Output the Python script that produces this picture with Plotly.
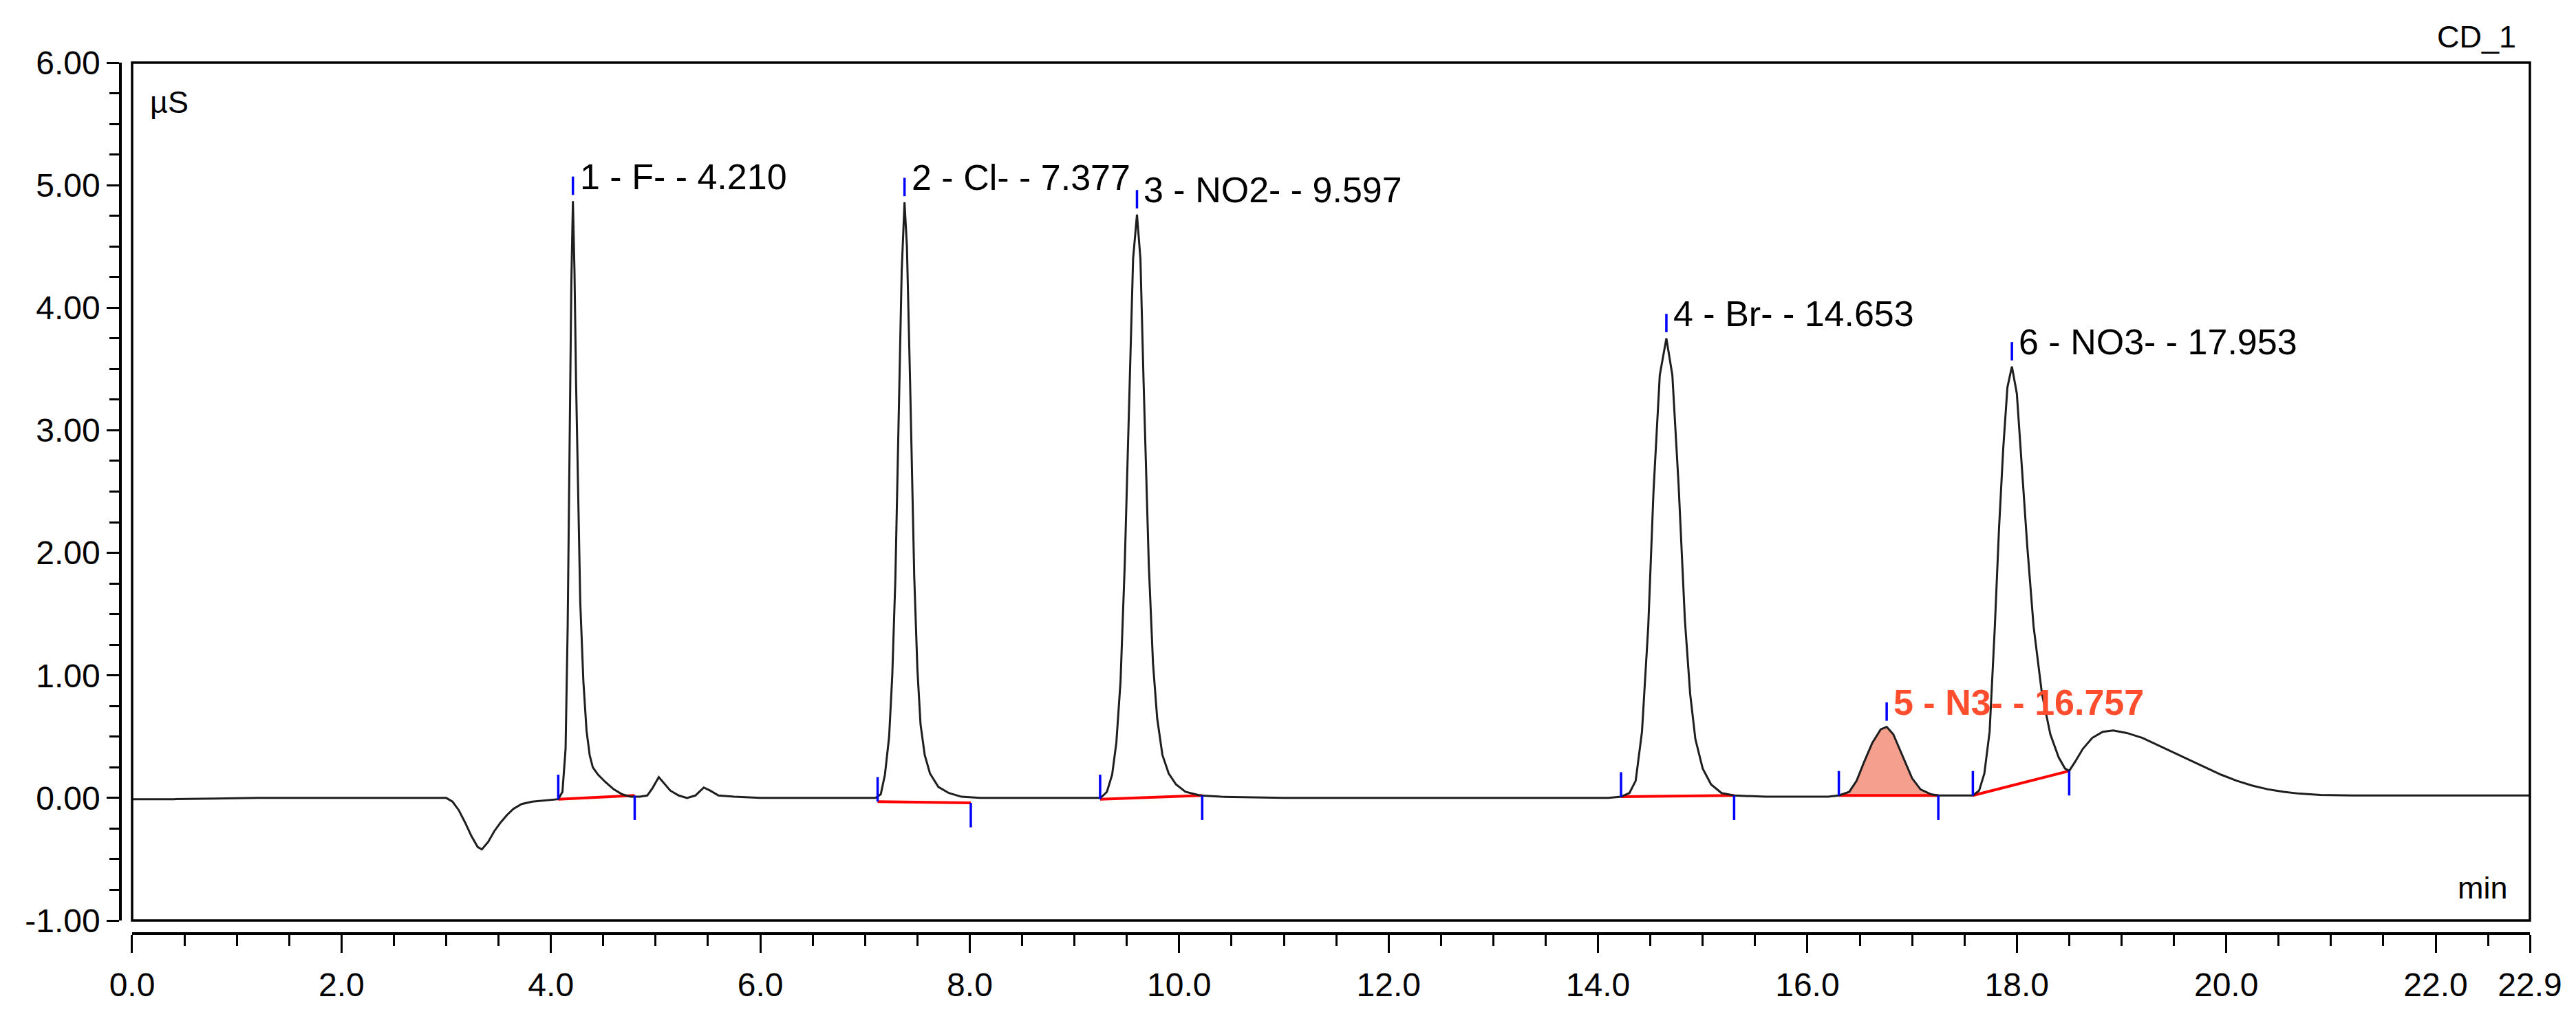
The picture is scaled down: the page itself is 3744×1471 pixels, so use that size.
import plotly.graph_objects as go

# chromatogram trace (time in min, conductivity in uS)
time_min = [
    0.00, 0.40, 0.80, 1.20, 2.00, 2.60, 3.00,
    3.06, 3.12, 3.18, 3.24, 3.30, 3.34, 3.40, 3.46, 3.52, 3.58, 3.64, 3.72, 3.82, 3.95, 4.07,
    4.11, 4.14, 4.16, 4.18, 4.195, 4.21, 4.225, 4.24, 4.26, 4.28, 4.31, 4.34, 4.37, 4.40,
    4.45, 4.52, 4.60, 4.68, 4.76, 4.85,
    4.92, 4.97, 5.03, 5.08, 5.14, 5.22, 5.30, 5.38, 5.46, 5.52, 5.60, 5.75, 6.00, 7.00, 7.10,
    7.15, 7.19, 7.23, 7.26, 7.29, 7.32, 7.35, 7.377, 7.40, 7.43, 7.47, 7.50, 7.53, 7.57,
    7.62, 7.70, 7.80, 7.92, 8.10, 9.20,
    9.25, 9.31, 9.36, 9.40, 9.44, 9.48, 9.52, 9.56, 9.597, 9.63, 9.66, 9.71, 9.75, 9.79,
    9.84, 9.90, 9.97, 10.06, 10.20, 10.40, 11.00, 14.10,
    14.22, 14.30, 14.36, 14.42, 14.48, 14.53, 14.59, 14.653, 14.71, 14.77, 14.83, 14.88,
    14.93, 15.00, 15.08, 15.18, 15.30, 15.60, 16.20, 16.30,
    16.40, 16.47, 16.54, 16.62, 16.70, 16.757, 16.82, 16.88, 16.93, 17.00, 17.08, 17.18,
    17.25, 17.45, 17.58,
    17.64, 17.69, 17.74, 17.79, 17.83, 17.87, 17.91, 17.953, 18.00, 18.05, 18.10, 18.16,
    18.24, 18.32, 18.40, 18.46, 18.50, 18.56, 18.63, 18.72, 18.82, 18.92, 19.05, 19.20,
    19.35, 19.50, 19.65, 19.80, 19.95, 20.10, 20.25, 20.40, 20.55, 20.70, 20.90, 21.20, 22.90,
]
signal_us = [
    -0.01, -0.01, -0.005, 0.0, 0.0, 0.0, 0.0,
    -0.03, -0.10, -0.20, -0.31, -0.40, -0.42, -0.36, -0.27, -0.20, -0.14, -0.09, -0.05, -0.03, -0.02, -0.01,
    0.05, 0.40, 1.40, 2.90, 4.20, 4.87, 4.30, 3.40, 2.40, 1.60, 0.95, 0.55, 0.35, 0.25,
    0.19, 0.13, 0.07, 0.03, 0.01, 0.01,
    0.02, 0.08, 0.17, 0.12, 0.06, 0.02, 0.0, 0.02, 0.085, 0.06, 0.02, 0.01, 0.0, 0.0, 0.0,
    0.03, 0.19, 0.50, 1.00, 1.80, 3.00, 4.30, 4.86, 4.50, 3.40, 1.80, 1.05, 0.60, 0.35,
    0.20, 0.09, 0.04, 0.01, 0.0, 0.0,
    0.0, 0.05, 0.19, 0.45, 0.95, 1.90, 3.20, 4.40, 4.76, 4.40, 3.40, 1.90, 1.10, 0.65,
    0.35, 0.20, 0.11, 0.05, 0.02, 0.01, 0.0, 0.0,
    0.01, 0.04, 0.14, 0.54, 1.40, 2.50, 3.45, 3.75, 3.45, 2.55, 1.45, 0.85,
    0.48, 0.24, 0.11, 0.04, 0.02, 0.01, 0.01, 0.02,
    0.05, 0.14, 0.29, 0.45, 0.56, 0.58, 0.52, 0.40, 0.29, 0.16, 0.07, 0.03,
    0.02, 0.02, 0.02,
    0.06, 0.20, 0.54, 1.40, 2.20, 2.85, 3.35, 3.52, 3.30, 2.70, 2.05, 1.40,
    0.85, 0.52, 0.33, 0.24, 0.22, 0.30, 0.40, 0.49, 0.54, 0.55, 0.53, 0.49,
    0.43, 0.37, 0.31, 0.25, 0.19, 0.14, 0.10, 0.07, 0.05, 0.035, 0.025, 0.02, 0.02,
]

# integrated peaks
peak_no = [1, 2, 3, 4, 5, 6]
peak_names = ["F-", "Cl-", "NO2-", "Br-", "N3-", "NO3-"]
peak_rt = [4.210, 7.377, 9.597, 14.653, 16.757, 17.953]
peak_height = [4.87, 4.86, 4.76, 3.75, 0.58, 3.52]
peak_start = [4.07, 7.12, 9.245, 14.22, 16.30, 17.58]
peak_end = [4.80, 8.01, 10.22, 15.30, 17.25, 18.50]
base_start_v = [-0.01, -0.03, -0.01, 0.01, 0.02, 0.02]
base_end_v = [0.02, -0.04, 0.02, 0.02, 0.02, 0.22]
highlight_peak = 5

x_tick_vals = [0, 2, 4, 6, 8, 10, 12, 14, 16, 18, 20, 22, 22.9]
x_tick_text = ["0.0", "2.0", "4.0", "6.0", "8.0", "10.0", "12.0", "14.0", "16.0",
               "18.0", "20.0", "22.0", "22.9"]
y_tick_vals = [-1, 0, 1, 2, 3, 4, 5, 6]
y_tick_text = ["-1.00", "0.00", "1.00", "2.00", "3.00", "4.00", "5.00", "6.00"]

FONT = "Liberation Sans, Arial, sans-serif"
MARK_LEN = 0.2      # length of the blue delimiter marks, in uS
APEX_GAP = 0.05

fig = go.Figure()

# shaded area of the highlighted peak
i = peak_no.index(highlight_peak)
fx = [t for t in time_min if peak_start[i] <= t <= peak_end[i]]
fy = [v for t, v in zip(time_min, signal_us) if peak_start[i] <= t <= peak_end[i]]
fx = [peak_start[i]] + fx + [peak_end[i], peak_start[i]]
fy = [base_start_v[i]] + fy + [base_end_v[i], base_start_v[i]]
fig.add_trace(go.Scatter(x=fx, y=fy, mode="lines", fill="toself",
                         fillcolor="#F5A08E", line=dict(width=0), hoverinfo="skip"))

# red integration baselines
bx, by = [], []
for s, e, vs, ve in zip(peak_start, peak_end, base_start_v, base_end_v):
    bx += [s, e, None]
    by += [vs, ve, None]
fig.add_trace(go.Scatter(x=bx, y=by, mode="lines", line=dict(color="#FF0000", width=4),
                         hoverinfo="skip"))

# the chromatogram itself
fig.add_trace(go.Scatter(x=time_min, y=signal_us, mode="lines",
                         line=dict(color="#1E1E1E", width=3)))

# blue delimiter marks: start (up), end (down), apex (above)
mx, my = [], []
for s, e, vs, ve, rt, h in zip(peak_start, peak_end, base_start_v, base_end_v,
                               peak_rt, peak_height):
    mx += [s, s, None, e, e, None, rt, rt, None]
    my += [vs, vs + MARK_LEN, None, ve, ve - MARK_LEN, None,
           h + APEX_GAP, h + APEX_GAP + MARK_LEN * 0.75, None]
fig.add_trace(go.Scatter(x=mx, y=my, mode="lines", line=dict(color="#0000FF", width=3.5),
                         hoverinfo="skip"))

annotations = []
for n, name, rt, h in zip(peak_no, peak_names, peak_rt, peak_height):
    hl = n == highlight_peak
    label = f"{n} - {name} - {rt:.3f}"
    if hl:
        label = "<b>" + label + "</b>"
    annotations.append(dict(
        x=rt, y=h + APEX_GAP + MARK_LEN * 0.75, xref="x", yref="y", text=label,
        showarrow=False, xanchor="left", yanchor="middle", xshift=8,
        font=dict(family=FONT, size=52, color="#FF4D2E" if hl else "#000000"),
    ))

annotations += [
    dict(text="µS", xref="x domain", yref="y domain", x=0, y=1, xanchor="left",
         yanchor="top", xshift=24, yshift=-30, showarrow=False,
         font=dict(family=FONT, size=45, color="black")),
    dict(text="CD_1", xref="x domain", yref="y domain", x=1, y=1, xanchor="right",
         yanchor="bottom", xshift=-18, yshift=10, showarrow=False,
         font=dict(family=FONT, size=45, color="black")),
    dict(text="min", xref="x domain", yref="y domain", x=1, y=0, xanchor="right",
         yanchor="bottom", xshift=-30, yshift=20, showarrow=False,
         font=dict(family=FONT, size=45, color="black")),
]

tick_font = dict(family=FONT, size=48, color="black")

fig.update_layout(
    width=3744, height=1471,
    margin=dict(l=175, r=67, t=91, b=114),
    paper_bgcolor="white", plot_bgcolor="white",
    showlegend=False,
    annotations=annotations,
    shapes=[dict(type="rect", xref="x domain", yref="y domain", x0=0, x1=1, y0=0, y1=1,
                 line=dict(color="black", width=3.5), layer="above")],
    xaxis=dict(
        domain=[0.00485, 1], range=[0, 22.9], anchor="free", position=0,
        showline=True, linecolor="black", linewidth=3.5, showgrid=False, zeroline=False,
        ticks="outside", ticklen=26, tickwidth=3, tickcolor="black", ticklabelstandoff=6,
        tickmode="array", tickvals=x_tick_vals, ticktext=x_tick_text, tickfont=tick_font,
        minor=dict(ticks="outside", tick0=0, dtick=0.5, ticklen=16, tickwidth=3,
                   tickcolor="black", showgrid=False),
    ),
    yaxis=dict(
        domain=[0.01501, 1], range=[-1, 6], anchor="free", position=0,
        showline=True, linecolor="black", linewidth=3.5, showgrid=False, zeroline=False,
        ticks="outside", ticklen=18, tickwidth=3, tickcolor="black",
        tickmode="array", tickvals=y_tick_vals, ticktext=y_tick_text, tickfont=tick_font,
        minor=dict(ticks="outside", tick0=0, dtick=0.25, ticklen=14, tickwidth=3,
                   tickcolor="black", showgrid=False),
    ),
)

fig.write_html("out.html", config={"displayModeBar": False},
               post_script="document.body.style.margin='0';")
